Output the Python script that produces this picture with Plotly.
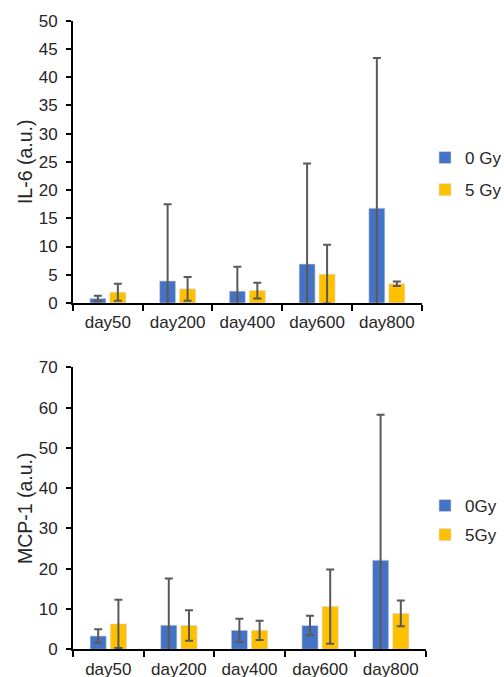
import plotly.graph_objects as go

days = ["day50", "day200", "day400", "day600", "day800"]

il6_0gy = [0.8, 3.9, 2.1, 6.9, 16.8]
il6_0gy_err = [0.5, 13.6, 4.3, 17.8, 26.6]
il6_5gy = [1.9, 2.5, 2.2, 5.1, 3.4]
il6_5gy_err = [1.5, 2.1, 1.4, 5.2, 0.4]

mcp1_0gy = [3.3, 6.0, 4.7, 5.9, 22.1]
mcp1_0gy_err = [1.7, 11.6, 2.9, 2.4, 36.1]
mcp1_5gy = [6.3, 5.9, 4.7, 10.6, 8.9]
mcp1_5gy_err = [6.0, 3.8, 2.4, 9.2, 3.2]

BLUE = "#4472C4"
YELLOW = "#FFC000"
ERR = "#595959"
TXT = "#262626"
FONT = "Liberation Sans, Arial, sans-serif"

def err(vals):
    return dict(type="data", array=vals, visible=True, color=ERR, thickness=2, width=4)

def bar(y, e, name, color, xa, ya, leg):
    return go.Bar(x=days, y=y, name=name, legendgroup=name,
                  marker=dict(color=color, line=dict(color="#dcdcdc", width=0.6)),
                  error_y=err(e), xaxis=xa, yaxis=ya, legend=leg)

fig = go.Figure()
fig.add_trace(bar(il6_0gy, il6_0gy_err, "0 Gy", BLUE, "x", "y", "legend"))
fig.add_trace(bar(il6_5gy, il6_5gy_err, "5 Gy", YELLOW, "x", "y", "legend"))
fig.add_trace(bar(mcp1_0gy, mcp1_0gy_err, "0Gy", BLUE, "x2", "y2", "legend2"))
fig.add_trace(bar(mcp1_5gy, mcp1_5gy_err, "5Gy", YELLOW, "x2", "y2", "legend2"))

W, H = 504, 677
xcommon = dict(showline=True, linecolor="black", linewidth=2, ticks="outside", tickson="boundaries",
               ticklen=6, tickwidth=1.5, tickcolor="black", showgrid=False, zeroline=False,
               ticklabelstandoff=3, automargin=False,
               tickfont=dict(size=17, color=TXT, family=FONT))
ycommon = dict(showline=True, linecolor="black", linewidth=2, ticks="outside", ticklen=5, tickwidth=1.5,
               tickcolor="black", showgrid=False, zeroline=False, ticklabelstandoff=5, automargin=False,
               tickfont=dict(size=17, color=TXT, family=FONT))

fig.update_layout(
    width=W, height=H, margin=dict(l=0, r=0, t=0, b=0, autoexpand=False),
    paper_bgcolor="white", plot_bgcolor="white",
    barmode="group", bargap=0.427, bargroupgap=0.2,
    font=dict(family=FONT, size=17, color=TXT),
    xaxis=dict(domain=[73/W, 421.7/W], anchor="y", **xcommon),
    yaxis=dict(domain=[(H-303)/H, (H-20.7)/H], anchor="x", range=[0, 50], dtick=5,
               title=dict(text="IL-6 (a.u.)", font=dict(size=19.5, color=TXT), standoff=1), **ycommon),
    xaxis2=dict(domain=[73/W, 426/W], anchor="y2", **xcommon),
    yaxis2=dict(domain=[(H-649.3)/H, (H-367.3)/H], anchor="x2", range=[0, 70], dtick=10,
                title=dict(text="MCP-1 (a.u.)", font=dict(size=19.5, color=TXT), standoff=1), **ycommon),
    legend=dict(x=425/W, y=(H-140)/H, xanchor="left", yanchor="top", font=dict(size=17, color=TXT),
                bgcolor="rgba(0,0,0,0)", traceorder="grouped", tracegroupgap=7),
    legend2=dict(x=425/W, y=(H-488)/H, xanchor="left", yanchor="top", font=dict(size=17, color=TXT),
                 bgcolor="rgba(0,0,0,0)", traceorder="grouped", tracegroupgap=4),
)

fig.write_html("out.html")
